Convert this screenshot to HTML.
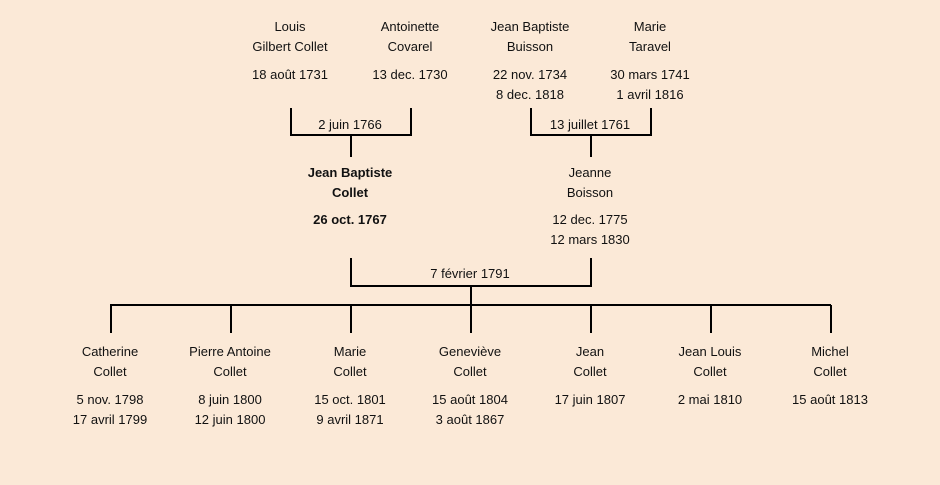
<!DOCTYPE html>
<html><head><style>
body{margin:0;width:940px;height:485px;background:#fbe9d7;position:relative;overflow:hidden;font-family:"Liberation Sans",sans-serif;font-size:13px;color:#111}
.t{position:absolute;width:160px;margin-left:-80px;text-align:center;line-height:20px;white-space:nowrap}
.b{font-weight:bold}
svg{position:absolute;left:0;top:0}
</style></head><body>
<svg width="940" height="485"><g stroke="#000" stroke-width="2" fill="none">
<path d="M291 108V135H411V108M351 135V157"/>
<path d="M531 108V135H651V108M591 135V157"/>
<path d="M351 258V286H591V258M471 286V305"/>
<path d="M110 305H831M111 305V333M231 305V333M351 305V333M471 305V333M591 305V333M711 305V333M831 305V333"/>
</g></svg>
<div class="t" style="left:290px;top:17px">Louis<br>Gilbert Collet</div>
<div class="t" style="left:290px;top:65px">18 août 1731</div>
<div class="t" style="left:410px;top:17px">Antoinette<br>Covarel</div>
<div class="t" style="left:410px;top:65px">13 dec. 1730</div>
<div class="t" style="left:530px;top:17px">Jean Baptiste<br>Buisson</div>
<div class="t" style="left:530px;top:65px">22 nov. 1734<br>8 dec. 1818</div>
<div class="t" style="left:650px;top:17px">Marie<br>Taravel</div>
<div class="t" style="left:650px;top:65px">30 mars 1741<br>1 avril 1816</div>
<div class="t" style="left:350px;top:115px">2 juin 1766</div>
<div class="t" style="left:590px;top:115px">13 juillet 1761</div>
<div class="t b" style="left:350px;top:163px">Jean Baptiste<br>Collet</div>
<div class="t b" style="left:350px;top:210px">26 oct. 1767</div>
<div class="t" style="left:590px;top:163px">Jeanne<br>Boisson</div>
<div class="t" style="left:590px;top:210px">12 dec. 1775<br>12 mars 1830</div>
<div class="t" style="left:470px;top:264px">7 février 1791</div>
<div class="t" style="left:110px;top:342px">Catherine<br>Collet</div>
<div class="t" style="left:110px;top:390px">5 nov. 1798<br>17 avril 1799</div>
<div class="t" style="left:230px;top:342px">Pierre Antoine<br>Collet</div>
<div class="t" style="left:230px;top:390px">8 juin 1800<br>12 juin 1800</div>
<div class="t" style="left:350px;top:342px">Marie<br>Collet</div>
<div class="t" style="left:350px;top:390px">15 oct. 1801<br>9 avril 1871</div>
<div class="t" style="left:470px;top:342px">Geneviève<br>Collet</div>
<div class="t" style="left:470px;top:390px">15 août 1804<br>3 août 1867</div>
<div class="t" style="left:590px;top:342px">Jean<br>Collet</div>
<div class="t" style="left:590px;top:390px">17 juin 1807</div>
<div class="t" style="left:710px;top:342px">Jean Louis<br>Collet</div>
<div class="t" style="left:710px;top:390px">2 mai 1810</div>
<div class="t" style="left:830px;top:342px">Michel<br>Collet</div>
<div class="t" style="left:830px;top:390px">15 août 1813</div>
</body></html>
